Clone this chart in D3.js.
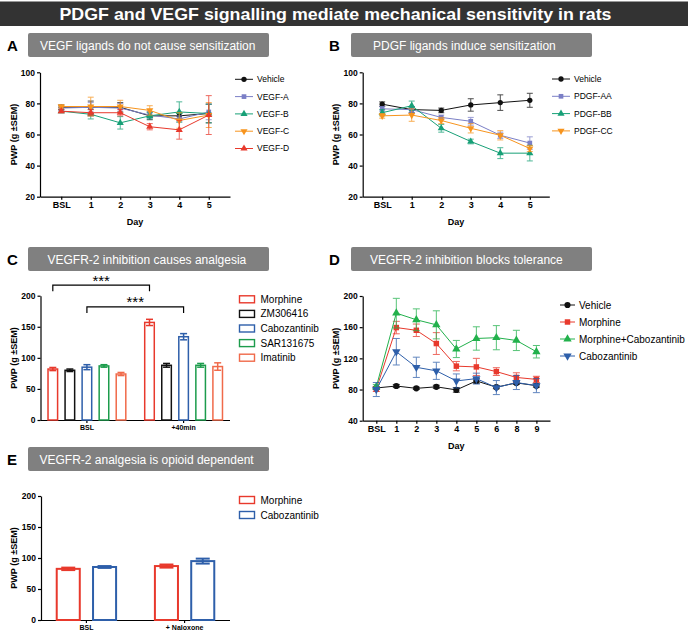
<!DOCTYPE html>
<html>
<head>
<meta charset="utf-8">
<script src="https://cdn.jsdelivr.net/npm/d3@7"></script>
<style>
  body { margin: 0; background: #fff; }
  svg { font-family: "Liberation Sans", Arial, sans-serif; }
</style>
</head>
<body>
<svg id="chart" width="688" height="632"></svg>
<script>
"use strict";

// ---- data ----
const titleText = "PDGF and VEGF signalling mediate mechanical sensitivity in rats";
const yTitle = "PWP (g \u00b1SEM)";

// Panel A: VEGF ligands
const daysAB = ["BSL", "1", "2", "3", "4", "5"];
const vegfNames = ["Vehicle", "VEGF-A", "VEGF-B", "VEGF-C", "VEGF-D"];
const vegfVehicle = [77.5, 77.5, 77.5, 72, 72, 73.5];
const vegfVehicleErr = [1.5, 4, 3, 2.5, 2, 6];
const vegfA = [77, 77.5, 77, 72.5, 70, 74.5];
const vegfAErr = [1.5, 3, 3, 2, 2, 5];
const vegfB = [75, 73, 67.5, 72, 74.5, 73.5];
const vegfBErr = [1, 3, 4, 2, 6.5, 6];
const vegfC = [78, 78, 78, 75.5, 69, 72.5];
const vegfCErr = [1, 6, 4, 3, 5, 8];
const vegfD = [75, 74, 74, 65, 63, 72.5];
const vegfDErr = [1, 2, 2, 2, 6, 12.5];

// Panel B: PDGF ligands
const pdgfNames = ["Vehicle", "PDGF-AA", "PDGF-BB", "PDGF-CC"];
const pdgfVehicle = [79.5, 76, 75.5, 79, 80.5, 82];
const pdgfVehicleErr = [1.5, 2, 1.5, 4, 5, 4.5];
const pdgfAA = [76.5, 76, 71, 68.5, 59.5, 54.5];
const pdgfAAErr = [1.5, 2, 1.5, 2.5, 2, 4];
const pdgfBB = [74, 78.5, 64, 55.5, 48, 48];
const pdgfBBErr = [2, 3, 2.5, 1.5, 3.5, 5];
const pdgfCC = [72, 72.5, 69, 64, 59.5, 51];
const pdgfCCErr = [1.5, 4, 2, 3, 3, 2];

// Panel C: VEGFR-2 inhibition analgesia
const cGroups = ["BSL", "+40min"];
const cNames = ["Morphine", "ZM306416", "Cabozantinib", "SAR131675", "Imatinib"];
const cBSL = [82, 80, 85, 87, 74];
const cBSLErr = [2.5, 2, 4, 2, 2.5];
const c40min = [157, 88, 134, 88, 86];
const c40minErr = [5, 3, 5, 3, 6];
const sigSeries = ["Morphine", "Cabozantinib"];
const sigLevel = [217, 182];
const sigLabel = ["***", "***"];

// Panel D: tolerance
const daysD = ["BSL", "1", "2", "3", "4", "5", "6", "8", "9"];
const dNames = ["Vehicle", "Morphine", "Morphine+Cabozantinib", "Cabozantinib"];
const dVehicle = [82, 84.5, 81.5, 83.5, 79.5, 91, 83, 88.5, 85];
const dVehicleErr = [2, 2, 1.5, 2, 3, 3, 2, 2, 2];
const dMorphine = [80.5, 159.5, 156, 139, 110, 109, 103, 95.5, 93];
const dMorphineErr = [3, 8, 8, 14, 6, 11, 5, 6, 4];
const dMorphCabo = [83.5, 178, 169.5, 163, 132, 145.5, 146.5, 143, 128.5];
const dMorphCaboErr = [3, 19, 14, 18, 11, 15, 15.5, 13, 8];
const dCabo = [80, 128.5, 108.5, 104, 91, 94, 82.5, 89, 85];
const dCaboErr = [9, 17, 13, 11, 9, 7, 9, 9, 9];

// Panel E: naloxone
const eGroups = ["BSL", "+ Naloxone"];
const eNames = ["Morphine", "Cabozantinib"];
const eBSL = [82.5, 85.5];
const eBSLErr = [2, 1.5];
const eNaloxone = [87, 95];
const eNaloxoneErr = [2.5, 4];

// colours
const cBlack = "#111";
const cPeri = "#7b7fc6";
const cTeal = "#17a077";
const cOrange = "#f7941d";
const cRed = "#e8392c";
const cBlue = "#2e5faa";
const cGreen = "#1c9c4c";
const cGreenD = "#22b14c";
const cCoral = "#f06a4a";

const triDown = "down";

const svg = d3.select('#chart');

// Title bar
svg.append('rect')
  .attr('x', 0).attr('y', 1.5)
  .attr('width', 688).attr('height', 24.5)
  .attr('fill', '#333');
svg.append('text')
  .attr('x', 59.5).attr('y', 19.5)
  .attr('textLength', 552).attr('lengthAdjust', 'spacingAndGlyphs')
  .attr('fill', '#fff').attr('font-weight', 'bold').attr('font-size', 17)
  .text(titleText);

// Panel header (letter + grey box)
function drawHeader(letter, lx, bx, by, text, tx){
  svg.append('text')
    .attr('x', lx).attr('y', by + 18)
    .attr('font-weight', 'bold').attr('font-size', 15)
    .text(letter);
  svg.append('rect')
    .attr('x', bx).attr('y', by)
    .attr('width', 241).attr('height', 24)
    .attr('rx', 2)
    .attr('fill', '#808080');
  svg.append('text')
    .attr('x', tx).attr('y', by + 16.5)
    .attr('fill', '#fff').attr('font-size', 12)
    .text(text);
};

function styleAxis(g, size){
  g.selectAll('path, line').attr('stroke', '#000').attr('stroke-width', 1.2);
  g.selectAll('text')
    .attr('font-family', '"Liberation Sans", Arial, sans-serif')
    .attr('font-weight', 'bold')
    .attr('font-size', size)
    .attr('fill', '#000');
  g.attr('font-family', null).attr('font-size', null);
};

function drawYTitle(x, y){
  svg.append('text')
    .attr('transform', `translate(${x},${y}) rotate(-90)`)
    .attr('text-anchor', 'middle')
    .attr('font-weight', 'bold').attr('font-size', 9)
    .text(yTitle);
};

function symbolPath(kind, size){
  const t = kind === 'circle' ? d3.symbolCircle
    : kind === 'square' ? d3.symbolSquare : d3.symbolTriangle;
  return d3.symbol().type(t).size(size)();
};

// Line chart with error bars
function drawLinePanel(p){
  const x = d3.scalePoint().domain(p.cats).range([p.x0, p.x1]).padding(p.pad);
  const y = d3.scaleLinear().domain(p.yDomain).range([p.yBot, p.yTop]);

  const xAxis = svg.append('g')
    .attr('transform', `translate(0,${p.yBot})`)
    .call(d3.axisBottom(x).tickSize(3).tickSizeOuter(0).tickPadding(2));
  styleAxis(xAxis, 9);
  const yAxis = svg.append('g')
    .attr('transform', `translate(${p.x0},0)`)
    .call(d3.axisLeft(y).tickValues(p.yTicks).tickSize(3).tickSizeOuter(0).tickPadding(2));
  styleAxis(yAxis, 8.5);

  svg.append('text')
    .attr('x', (p.x0 + p.x1) / 2).attr('y', p.yBot + 28)
    .attr('text-anchor', 'middle')
    .attr('font-weight', 'bold').attr('font-size', 9)
    .text('Day');

  p.series.forEach(s => {
    const pts = p.cats.map((c, i) => ({c: c, v: s.values[i], e: s.errs[i]}));
    const sg = svg.append('g');
    const eg = sg.append('g').attr('stroke', s.color).attr('stroke-width', 1).attr('opacity', 0.75);
    eg.selectAll('.bar')
      .data(pts).enter().append('line')
      .attr('x1', d => x(d.c)).attr('x2', d => x(d.c))
      .attr('y1', d => y(d.v - d.e)).attr('y2', d => y(d.v + d.e));
    [1, -1].forEach(sgn => {
      eg.selectAll('.cap' + sgn)
        .data(pts).enter().append('line')
        .attr('x1', d => x(d.c) - p.cap).attr('x2', d => x(d.c) + p.cap)
        .attr('y1', d => y(d.v + sgn * d.e)).attr('y2', d => y(d.v + sgn * d.e));
    });
    sg.append('path')
      .datum(pts)
      .attr('d', d3.line().x(d => x(d.c)).y(d => y(d.v)))
      .attr('fill', 'none').attr('stroke', s.color).attr('stroke-width', 1);
    sg.selectAll('.mk')
      .data(pts).enter().append('path')
      .attr('d', symbolPath(s.symbol, p.mk))
      .attr('transform', d => `translate(${x(d.c)},${y(d.v)})` + (s.symbol === triDown ? ' rotate(180)' : ''))
      .attr('fill', s.color);
  });

  // Legend
  p.series.forEach((s, i) => {
    const ly = p.legY + i * p.legStep;
    svg.append('line')
      .attr('x1', p.legX).attr('x2', p.legX + p.legLen)
      .attr('y1', ly).attr('y2', ly)
      .attr('stroke', s.color).attr('stroke-width', 1);
    svg.append('path')
      .attr('d', symbolPath(s.symbol, p.mk))
      .attr('transform', `translate(${p.legX + p.legLen / 2},${ly})` + (s.symbol === triDown ? ' rotate(180)' : ''))
      .attr('fill', s.color);
    svg.append('text')
      .attr('x', p.legX + p.legLen + 4).attr('y', ly).attr('dy', '0.35em')
      .attr('font-size', p.legFont)
      .text(s.name);
  });
};

// Grouped bar chart (open bars) with error bars
function drawBarPanel(p){
  const x0 = d3.scaleBand().domain(p.groups).range([p.x0, p.x1])
    .paddingInner(p.padIn).paddingOuter(p.padOut);
  const x1 = d3.scaleBand().domain(p.names).range([0, x0.bandwidth()]).paddingInner(p.barPad);
  const y = d3.scaleLinear().domain([0, 200]).range([p.yBot, p.yTop]);

  const xAxis = svg.append('g')
    .attr('transform', `translate(0,${p.yBot})`)
    .call(d3.axisBottom(x0).tickSize(3).tickSizeOuter(0).tickPadding(2));
  styleAxis(xAxis, 7);
  xAxis.select('.domain').attr('d', `M${p.x0},0.5H${p.x1}`);
  const yAxis = svg.append('g')
    .attr('transform', `translate(${p.x0},0)`)
    .call(d3.axisLeft(y).tickValues([0, 50, 100, 150, 200]).tickSize(3).tickSizeOuter(0).tickPadding(2));
  styleAxis(yAxis, 8.5);

  const rows = [];
  p.groups.forEach((g, gi) => {
    p.names.forEach((n, ni) => {
      rows.push({g: g, n: n, v: p.values[gi][ni], e: p.errs[gi][ni], color: p.colors[ni]});
    });
  });
  const bx = d => x0(d.g) + x1(d.n);
  const sw = p.stroke;

  svg.selectAll(null)
    .data(rows).enter().append('rect')
    .attr('x', d => bx(d) + sw / 2)
    .attr('y', d => y(d.v))
    .attr('width', x1.bandwidth() - sw)
    .attr('height', d => y(0) - y(d.v))
    .attr('fill', '#fff')
    .attr('stroke', d => d.color)
    .attr('stroke-width', sw);

  const eg = svg.append('g');
  rows.forEach(d => {
    const cx = bx(d) + x1.bandwidth() / 2;
    eg.append('line')
      .attr('x1', cx).attr('x2', cx)
      .attr('y1', y(d.v - d.e)).attr('y2', y(d.v + d.e))
      .attr('stroke', d.color).attr('stroke-width', sw);
    [1, -1].forEach(sgn => {
      eg.append('line')
        .attr('x1', cx - p.cap).attr('x2', cx + p.cap)
        .attr('y1', y(d.v + sgn * d.e)).attr('y2', y(d.v + sgn * d.e))
        .attr('stroke', d.color).attr('stroke-width', sw);
    });
  });

  // significance brackets
  if (p.sig) {
    p.sig.series.forEach((n, i) => {
      const xa = x0(p.groups[0]) + x1(n) + x1.bandwidth() / 2;
      const xb = x0(p.groups[1]) + x1(n) + x1.bandwidth() / 2;
      const yl = y(p.sig.level[i]);
      svg.append('path')
        .attr('d', `M${xa},${yl + 6}V${yl}H${xb}V${yl + 6}`)
        .attr('fill', 'none').attr('stroke', '#000').attr('stroke-width', 1.2);
      svg.append('text')
        .attr('x', (xa + xb) / 2).attr('y', yl + 0.5)
        .attr('text-anchor', 'middle').attr('font-size', 15)
        .text(p.sig.label[i]);
    });
  }

  // Legend
  p.names.forEach((n, i) => {
    const ly = p.legY + i * p.legStep;
    svg.append('rect')
      .attr('x', p.legX).attr('y', ly - 3.5)
      .attr('width', 15).attr('height', 7)
      .attr('fill', '#fff').attr('stroke', p.colors[i]).attr('stroke-width', 1.4);
    svg.append('text')
      .attr('x', p.legX + 21).attr('y', ly).attr('dy', '0.35em')
      .attr('font-size', 10)
      .text(n);
  });
};

// Draw title boxes
drawHeader('A', 7, 28, 33, 'VEGF ligands do not cause sensitization', 40);
drawHeader('B', 329, 351, 33, 'PDGF ligands induce sensitization', 373);
drawHeader('C', 7, 28, 247, 'VEGFR-2 inhibition causes analgesia', 47.5);
drawHeader('D', 329, 351, 247, 'VEGFR-2 inhibition blocks tolerance', 370);
drawHeader('E', 7, 28, 447, 'VEGFR-2 analgesia is opioid dependent', 39.5);

// Draw A
drawLinePanel({
  cats: daysAB, x0: 40, x1: 230, pad: 0.72,
  yDomain: [20, 100], yTicks: [20, 40, 60, 80, 100], yTop: 72.3, yBot: 196.7,
  cap: 3, mk: 22,
  legX: 235, legLen: 18, legY: 79.3, legStep: 17.3, legFont: 8.5,
  series: [
    {name: vegfNames[0], values: vegfVehicle, errs: vegfVehicleErr, color: cBlack, symbol: 'circle'},
    {name: vegfNames[1], values: vegfA, errs: vegfAErr, color: cPeri, symbol: 'square'},
    {name: vegfNames[2], values: vegfB, errs: vegfBErr, color: cTeal, symbol: 'tri'},
    {name: vegfNames[3], values: vegfC, errs: vegfCErr, color: cOrange, symbol: triDown},
    {name: vegfNames[4], values: vegfD, errs: vegfDErr, color: cRed, symbol: 'tri'}
  ]
});
drawYTitle(16.5, 134.5);

// Draw B
drawLinePanel({
  cats: daysAB, x0: 362.7, x1: 549.3, pad: 0.66,
  yDomain: [20, 100], yTicks: [20, 40, 60, 80, 100], yTop: 72.3, yBot: 196.7,
  cap: 3, mk: 22,
  legX: 552, legLen: 18, legY: 79, legStep: 17.3, legFont: 8.5,
  series: [
    {name: pdgfNames[0], values: pdgfVehicle, errs: pdgfVehicleErr, color: cBlack, symbol: 'circle'},
    {name: pdgfNames[1], values: pdgfAA, errs: pdgfAAErr, color: cPeri, symbol: 'square'},
    {name: pdgfNames[2], values: pdgfBB, errs: pdgfBBErr, color: cTeal, symbol: 'tri'},
    {name: pdgfNames[3], values: pdgfCC, errs: pdgfCCErr, color: cOrange, symbol: triDown}
  ]
});
drawYTitle(338.5, 134.5);

// Draw C
drawBarPanel({
  groups: cGroups, names: cNames, x0: 40.5, x1: 230,
  padIn: 0.18, padOut: 0.07, barPad: 0.35,
  yTop: 295.7, yBot: 420,
  values: [cBSL, c40min], errs: [cBSLErr, c40minErr],
  colors: [cRed, cBlack, cBlue, cGreen, cCoral],
  stroke: 1.5, cap: 3.5,
  sig: {series: sigSeries, level: sigLevel, label: sigLabel},
  legX: 239.5, legY: 299.3, legStep: 14.6
});
drawYTitle(16.5, 358);

// Draw D
drawLinePanel({
  cats: daysD, x0: 362.7, x1: 550, pad: 0.68,
  yDomain: [40, 200], yTicks: [40, 80, 120, 160, 200], yTop: 296, yBot: 420.7,
  cap: 3.5, mk: 30,
  legX: 560, legLen: 15, legY: 305, legStep: 17, legFont: 10,
  series: [
    {name: dNames[0], values: dVehicle, errs: dVehicleErr, color: cBlack, symbol: 'circle'},
    {name: dNames[1], values: dMorphine, errs: dMorphineErr, color: cRed, symbol: 'square'},
    {name: dNames[2], values: dMorphCabo, errs: dMorphCaboErr, color: cGreenD, symbol: 'tri'},
    {name: dNames[3], values: dCabo, errs: dCaboErr, color: cBlue, symbol: triDown}
  ]
});
drawYTitle(338.5, 358.4);

// Draw E
drawBarPanel({
  groups: eGroups, names: eNames, x0: 41, x1: 230,
  padIn: 0.375, padOut: 0.15, barPad: 0.31,
  yTop: 496, yBot: 620,
  values: [eBSL, eNaloxone], errs: [eBSLErr, eNaloxoneErr],
  colors: [cRed, cBlue],
  stroke: 2, cap: 7,
  legX: 239.5, legY: 500, legStep: 15
});
drawYTitle(16.5, 558);
</script>
</body>
</html>
